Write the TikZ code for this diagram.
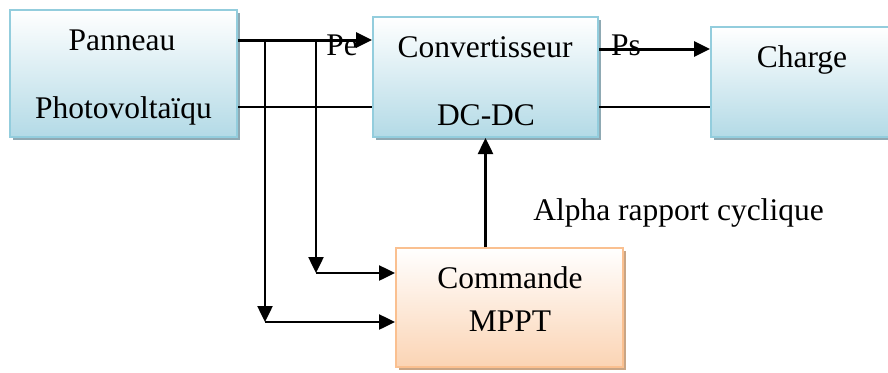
\documentclass[tikz,border=0pt]{standalone}
\usepackage{fontspec}
\setmainfont{Liberation Serif}
\usetikzlibrary{arrows.meta,shadows,positioning}

\definecolor{aquab}{HTML}{B3DAE6}
\definecolor{aquad}{HTML}{93CDDD}
\definecolor{aquas}{HTML}{8FA9B3}
\definecolor{peachb}{HTML}{FBD4B4}
\definecolor{peachd}{HTML}{FAC090}
\definecolor{peachs}{HTML}{C9A585}

\begin{document}
\begin{tikzpicture}
[x=1pt,y=-1pt,
blk/.style={rectangle,draw=aquad,line width=2pt,top color=white,bottom color=aquab,
inner sep=0pt,drop shadow={shadow xshift=3pt,shadow yshift=-3pt,fill=aquas,opacity=1}},
ctl/.style={rectangle,draw=peachd,line width=2pt,top color=white,bottom color=peachb,
inner sep=0pt,drop shadow={shadow xshift=3pt,shadow yshift=-3pt,fill=peachs,opacity=1}},
txt/.style={font=\fontsize{31.5}{36}\selectfont,anchor=base,inner sep=0pt},
pwr/.style={->,line width=3pt},
sig/.style={->,line width=2.5pt},
bus/.style={line width=1.5pt},
>={Triangle[length=16pt,width=15pt]}]

\useasboundingbox (0,0) rectangle (888,372);

% blocs
\node[blk,minimum width=227pt,minimum height=127pt] (pv) at (123.5,73.5) {};
\node[blk,minimum width=225pt,minimum height=120pt] (conv) at (485.5,77) {};
\node[blk,minimum width=184pt,minimum height=110pt] (load) at (803,82) {};
\node[ctl,minimum width=227pt,minimum height=119pt] (mppt) at (509.5,307.5) {};

% points de liaison
\coordinate (top) at (0,40);
\coordinate (low) at (0,107);
\coordinate (out) at (0,49);
\coordinate (s1) at (265,40);
\coordinate (s2) at (316,40);
\coordinate (d1) at (265,322);
\coordinate (d2) at (316,273);

% puissance
\draw[pwr] (pv.east |- top) -- (conv.west |- top);
\draw[bus] (pv.east |- low) -- (conv.west |- low);
\draw[pwr] (conv.east |- out) -- (load.west |- out);
\draw[bus] (conv.east |- low) -- (load.west |- low);

% mesures vers la commande
\draw[sig] (s1) -- (d1);
\draw[sig] (d1) -- (mppt.west |- d1);
\draw[sig] (s2) -- (d2);
\draw[sig] (d2) -- (mppt.west |- d2);
\draw[sig] (mppt.north -| conv.south) -- (conv.south);

% textes
\node[txt] (pvA) at (122,50) {Panneau};
\node[txt] (pvB) at (123.5,118) {Photovoltaïqu};
\node[txt] (convA) at (485,57) {Convertisseur};
\node[txt] (convB) at (486,125) {DC-DC};
\node[txt] (loadA) at (802,67) {Charge};
\node[txt] (mpptA) at (510,288) {Commande};
\node[txt] (mpptB) at (510,331) {MPPT};
\node[txt] (pe) at (342,55) {Pe};
\node[txt] (ps) at (626,55) {Ps};
\node[txt] (alpha) at (678.5,220) {Alpha rapport cyclique};

\end{tikzpicture}
\end{document}
